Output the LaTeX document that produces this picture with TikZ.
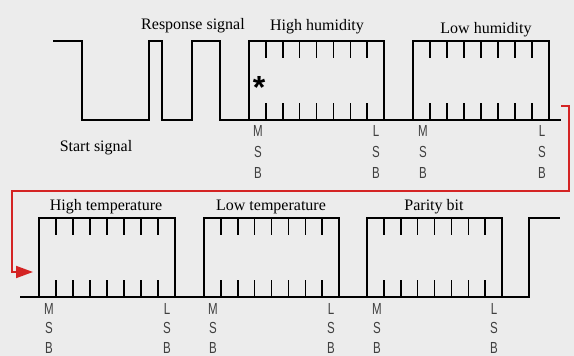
\documentclass[tikz,border=0pt]{standalone}
\usepackage{fontspec}
\usepackage{graphicx}
\setmainfont{Liberation Serif}
\newfontfamily\lblsans{Liberation Sans}
\usetikzlibrary{arrows.meta}
\definecolor{bg}{RGB}{236,236,236}
\definecolor{redline}{RGB}{212,36,36}
\newcommand\bitbox[5]{% left, right, top, bottom, ticklength
  \draw[wave] (#1,#4) -- (#1,#3) -- (#2,#3) -- (#2,#4);
  \foreach \i in {1,...,7}{%
    \pgfmathsetmacro\xx{#1+\i*(#2-#1)/8}
    \draw[tickline] (\xx,#3) -- (\xx,#3+#5);
    \draw[tickline] (\xx,#4-#5) -- (\xx,#4);
  }%
}
\newcommand\nar[1]{\scalebox{0.72}[1]{#1}}
\newcommand\sblabel[1]{\nar{#1}\\\nar{S}\\\nar{B}}
\begin{document}
\begin{tikzpicture}[x=1pt,y=-1pt,
  wave/.style={line width=1.8pt, line join=miter, line cap=rect},
  startwave/.style={line width=2.6pt, line join=miter},
  tickline/.style={line width=1.5pt},
  title/.style={font=\fontsize{16}{16}\selectfont, inner sep=0pt},
  bitlbl/.style={font=\lblsans\fontsize{16}{21}\selectfont, align=center, inner sep=0pt, text=black!75},
  bitlblb/.style={bitlbl, font=\lblsans\fontsize{16}{19.5}\selectfont},
  conn/.style={draw=redline, line width=1.8pt, line join=miter, -{Triangle[length=17pt,width=12pt]}}]
\fill[bg] (0,0) rectangle (574,356);
\useasboundingbox (0,0) rectangle (574,356);

% ---- top row ----
\draw[startwave] (53,41) -- (82,41) -- (82,120) -- (149,120) -- (149,41) -- (162,41);
\draw[wave] (162,41) -- (162,120) -- (192,120) -- (192,41) -- (220,41) -- (220,120) -- (560,120);
\bitbox{249}{384}{41}{120}{17}
\bitbox{413}{549}{41}{120}{17}

\node[title] (resp) at (193,26) {Response signal};
\node[title] (hh) at (317,27) {High humidity};
\node[title] (lh) at (486,30) {Low humidity};
\node[title] (start) at (96,148) {Start signal};
\node[font=\lblsans\bfseries\fontsize{32}{32}\selectfont, inner sep=0pt, anchor=north] (star) at (259,76) {*};

\node[bitlbl] (m1) at (258,152) {\sblabel{M}};
\node[bitlbl] (l1) at (376,152) {\sblabel{L}};
\node[bitlbl] (m2) at (423,152) {\sblabel{M}};
\node[bitlbl] (l2) at (542,152) {\sblabel{L}};

% ---- bottom row ----
\draw[wave] (21,297) -- (529,297) -- (529,218) -- (559,218);
\bitbox{39}{175}{218}{297}{17}
\bitbox{204}{339}{218}{297}{17}
\bitbox{367}{502}{218}{297}{17}

\node[title] (ht) at (106,207) {High temperature};
\node[title] (lt) at (271,207) {Low temperature};
\node[title] (pb) at (434,207) {Parity bit};

\node[bitlblb] (m3) at (49,328) {\sblabel{M}};
\node[bitlblb] (l3) at (167,328) {\sblabel{L}};
\node[bitlblb] (m4) at (213,328) {\sblabel{M}};
\node[bitlblb] (l4) at (331,328) {\sblabel{L}};
\node[bitlblb] (m5) at (377,328) {\sblabel{M}};
\node[bitlblb] (l5) at (494,328) {\sblabel{L}};

% ---- red connector ----
\coordinate (rstart) at (561,106);
\coordinate (rend) at (33,272);
\draw[conn] (rstart) -- (569,106) -- (569,191) -- (12,191) -- (12,272) -- (rend);
\end{tikzpicture}
\end{document}
